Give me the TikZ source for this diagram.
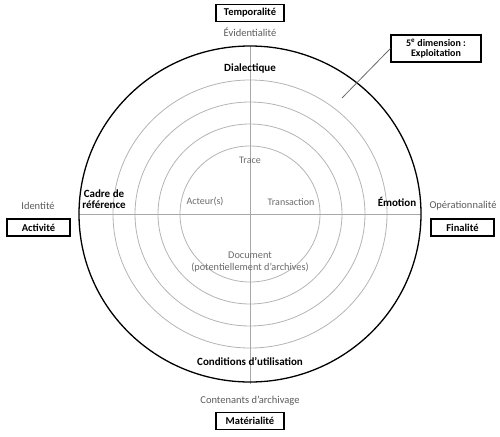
\documentclass[tikz,border=0pt]{standalone}
\usepackage{fontspec}
\setmainfont{Carlito}
\definecolor{ringgray}{HTML}{B4B4B4}
\definecolor{axisgray}{HTML}{A8A8A8}
\definecolor{labgray}{HTML}{5A5A5A}
\definecolor{ingray}{HTML}{6A6A6A}
\tikzset{
  dimbox/.style={draw=black, line width=1.2pt, inner sep=0pt, font=\fontsize{10.5}{12}\selectfont\bfseries, text=black},
  graylab/.style={inner sep=0pt, font=\fontsize{10.5}{12}\selectfont, text=labgray},
  innerlab/.style={inner sep=0pt, font=\fontsize{10}{11.5}\selectfont, text=ingray},
  ringlab/.style={inner sep=0pt, font=\fontsize{11}{11}\selectfont\bfseries, text=black, align=center},
  ring/.style={draw=ringgray, line width=0.8pt},
  axis/.style={draw=axisgray, line width=0.9pt}
}
\begin{document}
\begin{tikzpicture}[x=1pt,y=-1pt]
\useasboundingbox (0,0) rectangle (500,436);
\coordinate (c) at (250,214);
% rings
\draw[ring] (c) ellipse [x radius=137, y radius=134];
\draw[ring] (c) ellipse [x radius=115, y radius=112];
\draw[ring] (c) ellipse [x radius=92, y radius=90];
\draw[ring] (c) ellipse [x radius=70, y radius=68];
% axes
\coordinate (L) at (79,214);
\coordinate (R) at (421,214);
\coordinate (T) at (250,46);
\coordinate (B) at (250,384);
\draw[axis] (L) -- (R);
\draw[axis] (T) -- (B);
% outer circle
\draw[black, line width=1.3pt] (c) ellipse [x radius=171, y radius=168];
% ring labels
\node[ringlab] (dial) at (250,68) {Dialectique};
\node[ringlab] (cadre) at (104,199) {Cadre de\\référence};
\node[ringlab] (emo) at (397,202) {Émotion};
\node[ringlab] (cond) at (250,362) {Conditions d'utilisation};
% inner labels
\node[innerlab] (trace) at (250,160) {Trace};
\node[innerlab] (acteur) at (205,202) {Acteur(s)};
\node[innerlab] (trans) at (291,202) {Transaction};
\node[innerlab, align=center, font=\fontsize{10.3}{11.5}\selectfont] (doc) at (250,262) {Document\\(potentiellement d'archives)};
% outer gray labels
\node[graylab] (evid) at (250,32) {Évidentialité};
\node[graylab] (cont) at (250,401) {Contenants d'archivage};
\node[graylab] (ident) at (38,206) {Identité};
\node[graylab] (oper) at (463,206) {Opérationnalité};
% dimension boxes
\node[dimbox, minimum width=68pt, minimum height=17pt] (temp) at (250,13) {Temporalité};
\node[dimbox, minimum width=68pt, minimum height=17pt] (mat) at (250,421) {Matérialité};
\node[dimbox, minimum width=63pt, minimum height=17pt] (act) at (38.5,227.5) {Activité};
\node[dimbox, minimum width=63pt, minimum height=17pt] (fin) at (462.5,227.5) {Finalité};
\node[dimbox, minimum width=90pt, minimum height=27pt, align=center, font=\fontsize{10}{10.5}\selectfont\bfseries] (five) at (436,48.5) {5\textsuperscript{e} dimension :\\Exploitation};
% pointer
\coordinate (p) at (342,98);
\draw[draw=ingray, line width=0.8pt] (p) -- (five.west);
\end{tikzpicture}
\end{document}
